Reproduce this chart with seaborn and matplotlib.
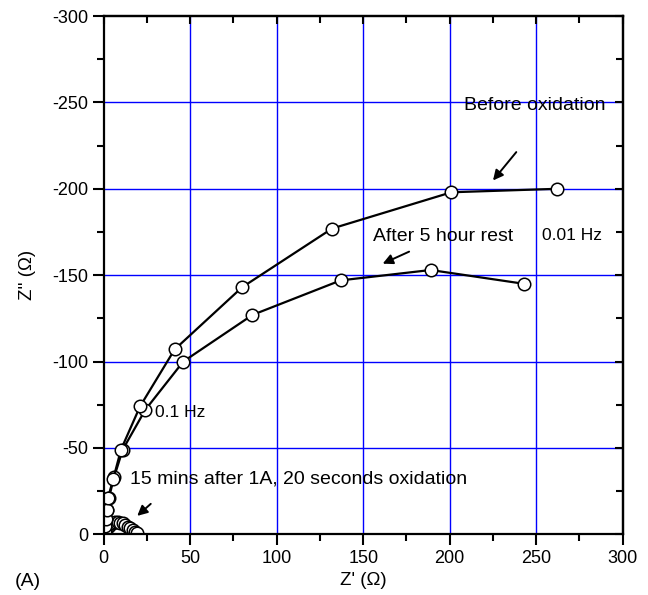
import matplotlib
matplotlib.use("Agg")
import matplotlib.pyplot as plt
import seaborn as sns
import pandas as pd
from matplotlib.ticker import MultipleLocator

# ---- data ----
before_x = [0.5, 1.0, 1.5, 2.0, 2.5, 5.5, 10.0, 21.0, 41.0, 80.0, 132.0, 201.0, 262.0]
before_y = [-2, -5, -9, -14, -21, -32, -49, -74, -107, -143, -177, -198, -200]

rest_x = [0.5, 1.0, 1.5, 2.0, 3.0, 6.0, 11.0, 24.0, 46.0, 86.0, 137.0, 189.0, 243.0]
rest_y = [-2, -5, -9, -14, -21, -33, -49, -72, -100, -127, -147, -153, -145]

ox_x = [0.3, 1.0, 1.5, 2.5, 3.5, 5.0, 6.5, 8.0, 9.5, 11.0, 12.5, 14.0, 15.5, 17.0, 18.0, 19.0]
ox_y = [-0.3, -1.0, -2.5, -4.0, -5.5, -6.5, -7.0, -7.0, -6.8, -6.3, -5.5, -4.5, -3.5, -2.5, -1.5, -0.8]

x_ticks = [0, 50, 100, 150, 200, 250, 300]
y_ticks = [0, -50, -100, -150, -200, -250, -300]

sns.set_style("ticks")
plt.rcParams['font.family'] = ['Liberation Sans', 'DejaVu Sans']
plt.rcParams['text.color'] = 'black'
plt.rcParams['axes.labelcolor'] = 'black'
plt.rcParams['xtick.color'] = 'black'
plt.rcParams['ytick.color'] = 'black'

fig = plt.figure(figsize=(6.48, 5.95), dpi=100)
ax = fig.add_axes([0.160, 0.102, 0.801, 0.871])

# grid
for v in x_ticks[1:-1]:
    ax.axvline(v, color='#0000ff', lw=1.0, zorder=0)
for v in y_ticks[1:-1]:
    ax.axhline(v, color='#0000ff', lw=1.0, zorder=0)

mk = dict(marker='o', markersize=9, markerfacecolor='white',
          markeredgecolor='black', markeredgewidth=1.1)

for xs, ys in [(ox_x, ox_y), (rest_x, rest_y), (before_x, before_y)]:
    df = pd.DataFrame({'x': xs, 'y': ys})
    sns.lineplot(data=df, x='x', y='y', sort=False, estimator=None,
                 color='black', lw=1.6, ax=ax, **mk)

ax.set_xlim(0, 300)
ax.set_ylim(0, -300)
ax.set_xticks(x_ticks)
ax.set_yticks(y_ticks)
ax.xaxis.set_minor_locator(MultipleLocator(25))
ax.yaxis.set_minor_locator(MultipleLocator(25))
ax.set_xticklabels([str(v) for v in x_ticks])
ax.set_yticklabels([str(v) for v in y_ticks])

for s in ax.spines.values():
    s.set_linewidth(1.6)
    s.set_color('black')

ax.tick_params(which='major', direction='out', length=8, width=1.5, labelsize=13,
               colors='black', pad=3)
ax.tick_params(which='minor', direction='out', length=5, width=1.5, colors='black')
# inward ticks on top/right
ax2 = ax.secondary_xaxis('top')
ax2.set_xticks(x_ticks)
ax2.xaxis.set_minor_locator(MultipleLocator(25))
ax2.tick_params(which='major', direction='in', length=6, width=1.5)
ax2.tick_params(which='minor', direction='in', length=5, width=1.5)
ax2.set_xticklabels([])
ax3 = ax.secondary_yaxis('right')
ax3.set_yticks(y_ticks)
ax3.yaxis.set_minor_locator(MultipleLocator(25))
ax3.tick_params(which='major', direction='in', length=6, width=1.5)
ax3.tick_params(which='minor', direction='in', length=5, width=1.5)
ax3.set_yticklabels([])
for a in (ax2, ax3):
    for s in a.spines.values():
        s.set_linewidth(1.6)
        s.set_color('black')

ax.set_xlabel("Z' (\u03a9)", fontsize=13.5, labelpad=4)
ax.set_ylabel("Z'' (\u03a9)", fontsize=13.5, labelpad=12)

fs = 14
ax.text(249, -248.5, "Before oxidation", fontsize=fs, ha='center', va='center')
ax.annotate("", xy=(224, -203.6), xytext=(239.5, -222.5),
            arrowprops=dict(arrowstyle='-|>', color='black', lw=1.4, mutation_scale=15))
ax.text(155.4, -172.3, "After 5 hour rest", fontsize=fs, ha='left', va='center')
ax.annotate("", xy=(159.8, -156), xytext=(178, -164.3),
            arrowprops=dict(arrowstyle='-|>', color='black', lw=1.4, mutation_scale=15))
ax.text(253.3, -172.8, "0.01 Hz", fontsize=12.5, ha='left', va='center')
ax.text(29.4, -70.5, "0.1 Hz", fontsize=12.5, ha='left', va='center')
ax.text(15, -31.8, "15 mins after 1A, 20 seconds oxidation", fontsize=fs,
        ha='left', va='center')
ax.annotate("", xy=(18.2, -9.6), xytext=(28.4, -18.7),
            arrowprops=dict(arrowstyle='-|>', color='black', lw=1.4, mutation_scale=15))

fig.text(0.023, 0.022, "(A)", fontsize=14, ha='left', va='center')

fig.savefig("out.png", dpi=100)
